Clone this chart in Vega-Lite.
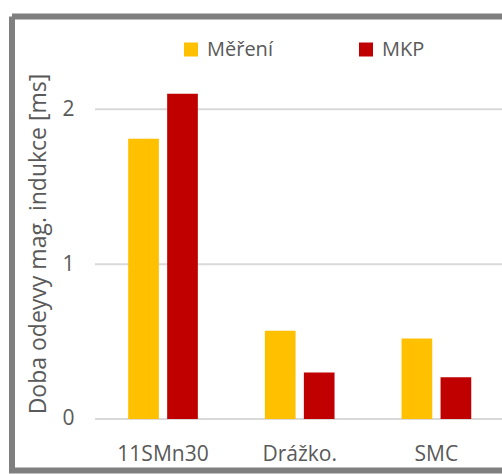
{
  "$schema": "https://vega.github.io/schema/vega-lite/v6.json",
  "width": 490,
  "height": 454,
  "autosize": {"type": "none"},
  "padding": {"left": 12, "top": 16.5, "right": 0, "bottom": 3.5},
  "background": "white",
  "view": {"stroke": "#7f7f7f", "strokeWidth": 6, "strokeDash": [490, 454, 944, 0]},
  "config": {
    "font": "Open Sans",
    "axis": {
      "domain": false,
      "ticks": false,
      "grid": false,
      "labelFontSize": 21,
      "labelColor": "#595959",
      "titleFontSize": 23,
      "titleFontWeight": "normal",
      "titleColor": "#595959"
    }
  },
  "datasets": {
    "bars": [
      {"cat": "11SMn30", "series": "Měření", "value": 1.81},
      {"cat": "11SMn30", "series": "MKP", "value": 2.1},
      {"cat": "Drážko.", "series": "Měření", "value": 0.57},
      {"cat": "Drážko.", "series": "MKP", "value": 0.3},
      {"cat": "SMC", "series": "Měření", "value": 0.52},
      {"cat": "SMC", "series": "MKP", "value": 0.27}
    ],
    "grid": [{"value": 0}, {"value": 1}, {"value": 2}]
  },
  "encoding": {
    "y": {
      "field": "value",
      "type": "quantitative",
      "scale": {"domain": [-0.3326, 2.599], "nice": false, "zero": false},
      "axis": {
        "title": "Doba odeyvy mag. indukce [ms]",
        "values": [0, 1, 2],
        "offset": -70,
        "labelPadding": 8,
        "titlePadding": 11
      }
    }
  },
  "layer": [
    {
      "data": {"name": "grid"},
      "mark": {"type": "rule", "color": "#d9d9d9", "strokeWidth": 2},
      "encoding": {
        "x": {
          "datum": "11SMn30",
          "type": "nominal",
          "bandPosition": -0.018,
          "scale": {"domain": ["11SMn30", "Drážko.", "SMC"], "paddingInner": 0.0402, "paddingOuter": 0.3124, "align": 1},
          "axis": {"title": null, "offset": -20, "labelPadding": 10, "labelBaseline": "alphabetic", "labelAngle": 0}
        },
        "x2": {"value": "width"}
      }
    },
    {
      "data": {"name": "bars"},
      "mark": {"type": "bar"},
      "encoding": {
        "x": {
          "field": "cat",
          "type": "nominal",
          "scale": {"domain": ["11SMn30", "Drážko.", "SMC"], "paddingInner": 0.0402, "paddingOuter": 0.3124, "align": 1},
          "axis": {"title": null, "offset": -20, "labelPadding": 10, "labelBaseline": "alphabetic", "labelAngle": 0}
        },
        "xOffset": {
          "field": "series",
          "type": "nominal",
          "scale": {"domain": ["Měření", "MKP"], "paddingInner": 0.213, "paddingOuter": 0.789}
        },
        "y2": {"datum": 0},
        "color": {
          "field": "series",
          "type": "nominal",
          "scale": {"domain": ["Měření", "MKP"], "range": ["#FFC000", "#C00000"]},
          "legend": {
            "title": null,
            "orient": "none",
            "legendX": 169,
            "legendY": 23,
            "direction": "horizontal",
            "symbolType": "square",
            "symbolSize": 196,
            "symbolStrokeWidth": 0,
            "labelFontSize": 20,
            "labelColor": "#595959",
            "labelOffset": 6,
            "columnPadding": 83,
            "padding": 0
          }
        }
      }
    }
  ]
}
